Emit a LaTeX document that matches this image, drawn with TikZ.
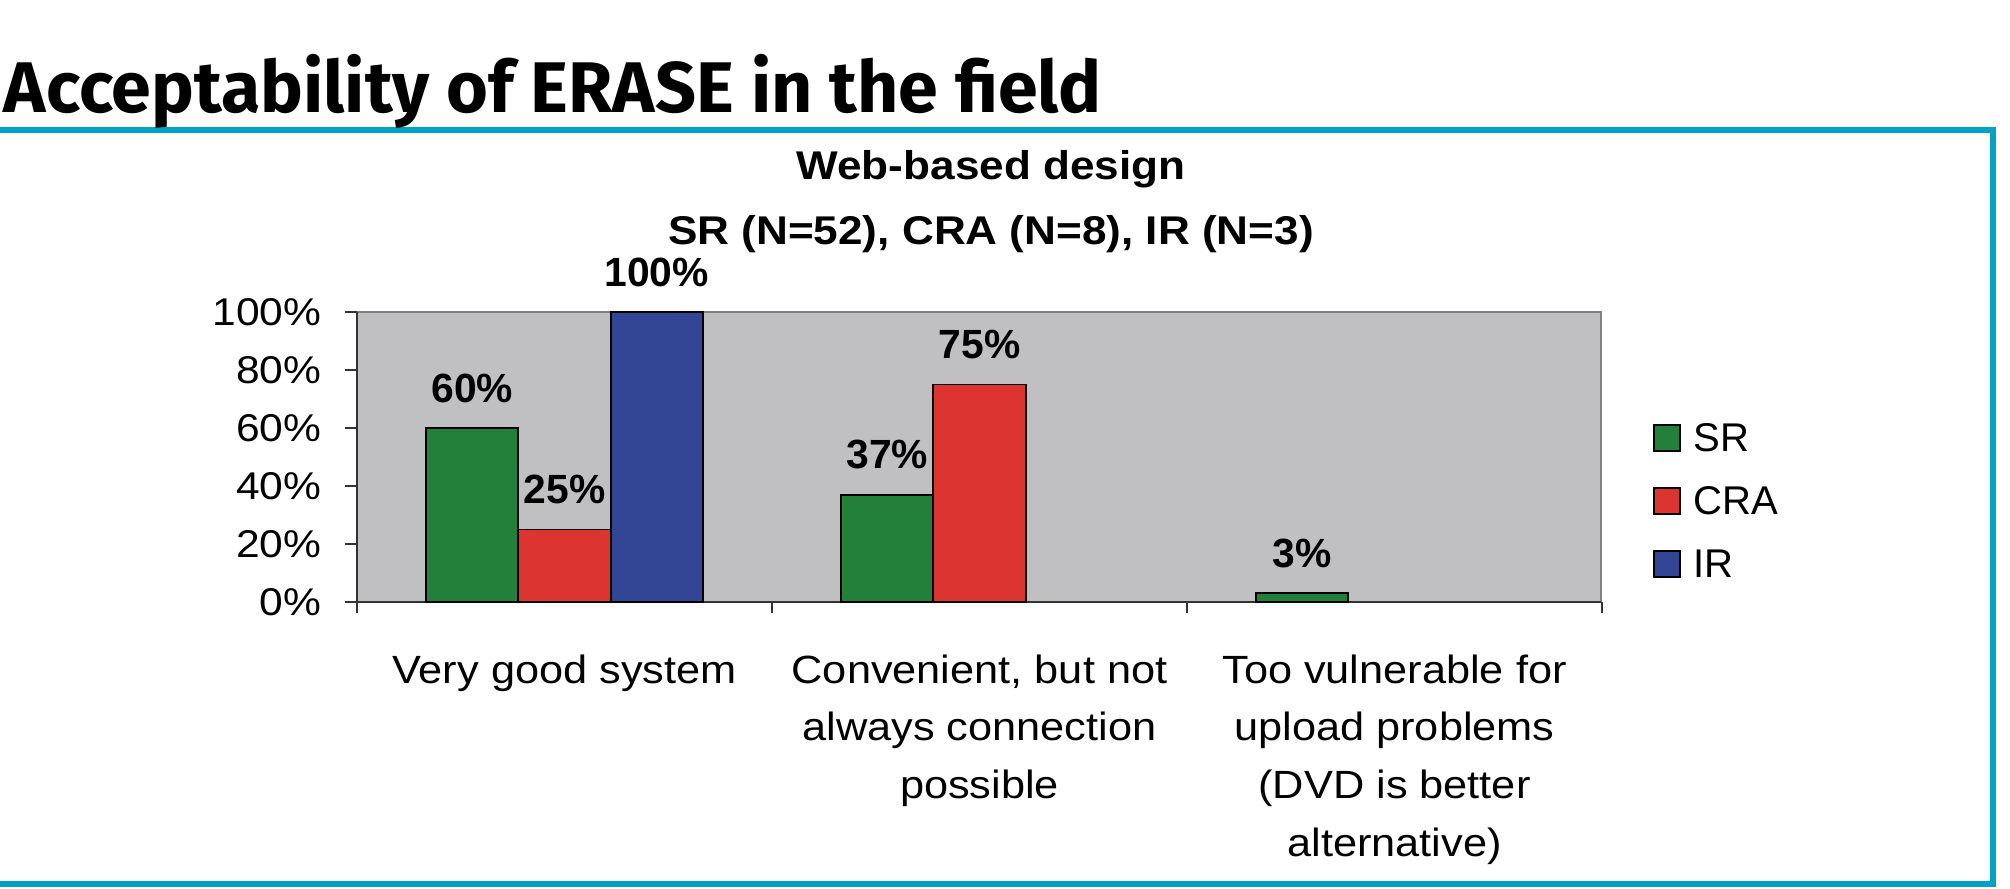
\documentclass[tikz,border=0pt]{standalone}
\usepackage{fontspec}
\setmainfont{Liberation Sans}
\newfontfamily\headfont{Fira Sans}
\newfontfamily\widefont{Liberation Sans}[FakeStretch=1.1]
\definecolor{srgreen}{HTML}{22803A}
\definecolor{crared}{HTML}{DC3431}
\definecolor{irblue}{HTML}{334595}
\definecolor{plotgray}{HTML}{C0C0C3}
\definecolor{framecyan}{HTML}{00A2C7}

\begin{document}
\begin{tikzpicture}[
  x=0.01cm, y=-0.01cm,
  frame/.style={draw=framecyan, line width=1.7pt},
  heading/.style={font=\headfont\bfseries\fontsize{20.4}{24}\selectfont, inner sep=0pt, anchor=base west},
  charttitle/.style={font=\widefont\bfseries\fontsize{11.4}{18.5}\selectfont, align=center, inner sep=0pt},
  ticklabel/.style={font=\widefont\fontsize{11}{13}\selectfont, anchor=east, inner sep=0pt},
  vallabel/.style={font=\bfseries\fontsize{11.6}{13}\selectfont, inner sep=0pt},
  catlabel/.style={font=\widefont\fontsize{11.2}{16.4}\selectfont, align=center, anchor=north, inner sep=0pt},
  legtext/.style={font=\fontsize{11.4}{13}\selectfont, anchor=west, inner sep=0pt},
  bar/.style={draw=black, line width=0.55pt},
  axis/.style={draw=black!80, line width=0.6pt}
]
\useasboundingbox (0,0) rectangle (2010,889);
\draw[frame] (-20,130) rectangle (1993,884);
\node[heading] (heading) at (3,113) {Acceptability of ERASE in the field};
\node[charttitle] (charttitle) at (991,202) {Web-based design\\SR (N=52), CRA (N=8), IR (N=3)};

\fill[plotgray] (357,312) rectangle (1601,602);
\draw[gray, line width=0.6pt] (357,312) -- (1601,312) -- (1601,602);
\draw[axis] (357,312) -- (357,602) -- (1601,602);
\foreach \v in {0,20,...,100} {
  \draw[axis] (345,602-2.9*\v) -- (357,602-2.9*\v);
  \node[ticklabel] (tick\v) at (322,602-2.9*\v) {\v\%};
}
\foreach \c in {0,...,3}
  \draw[axis] (357+415*\c,602) -- (357+415*\c,613);

\foreach \g/\s/\v/\col in {0/0/60/srgreen, 0/1/25/crared, 0/2/100/irblue, 1/0/37/srgreen, 1/1/75/crared, 2/0/3/srgreen} {
  \draw[bar, fill=\col] ({426.2+415*\g+92.2*\s},602) rectangle ++(92.2,-2.9*\v);
  \node[vallabel] (val\g\s) at ({472.3+415*\g+92.2*\s},562-2.9*\v) {\v\%};
}

\node[catlabel] (catgood) at (564.5,654) {Very good system};
\node[catlabel] (catconv) at (979.5,654) {Convenient, but not\\always connection\\possible};
\node[catlabel] (catvuln) at (1394.5,654) {Too vulnerable for\\upload problems\\(DVD is better\\alternative)};

\foreach \col/\name/\y in {srgreen/SR/438, crared/CRA/501, irblue/IR/564} {
  \draw[bar, fill=\col] (1654,\y-13) rectangle ++(26,26);
  \node[legtext] (leg\name) at (1693,\y) {\name};
}
\end{tikzpicture}
\end{document}
